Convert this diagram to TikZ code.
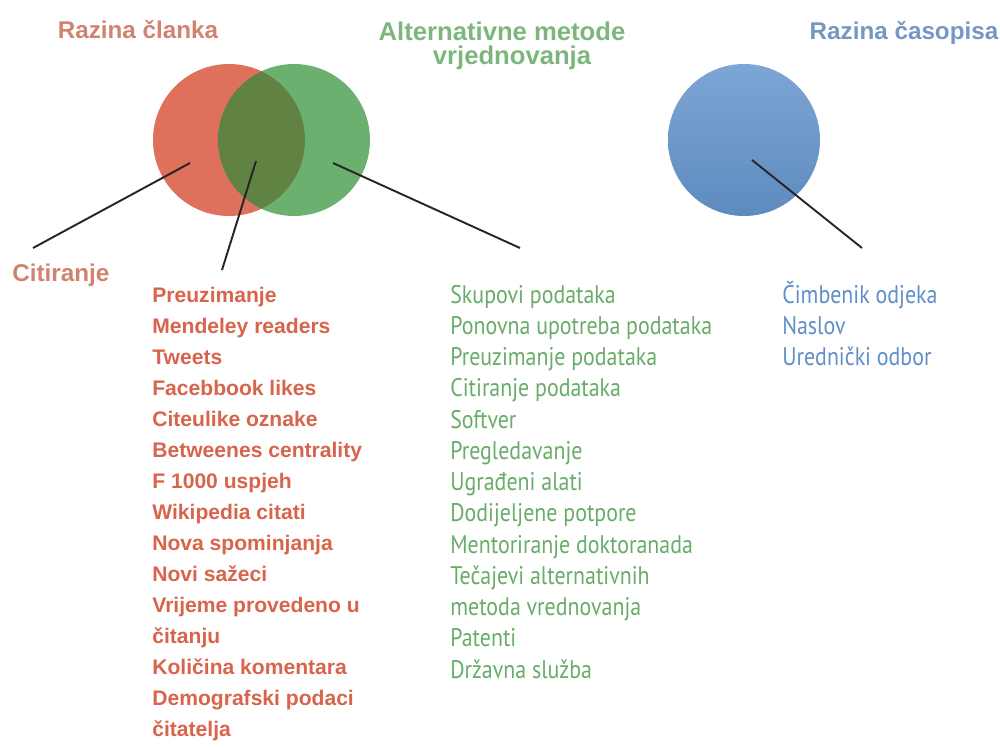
\documentclass[tikz,border=0pt]{standalone}
\usepackage{fontspec}
\setmainfont{PT Sans}[FakeStretch=0.86]
\newfontfamily\arialsans{Liberation Sans}
\definecolor{clred}{RGB}{222,112,92}
\definecolor{clgreen}{RGB}{108,176,112}
\definecolor{cloverlap}{RGB}{96,130,66}
\definecolor{clblue}{RGB}{102,150,206}
\definecolor{txred}{RGB}{216,100,76}
\definecolor{ttred}{RGB}{208,132,112}
\definecolor{txgreen}{RGB}{104,172,104}
\definecolor{ttgreen}{RGB}{124,182,124}
\definecolor{txblue}{RGB}{96,142,200}
\definecolor{ttblue}{RGB}{118,150,196}

\begin{document}
\begin{tikzpicture}[x=0.02cm,y=-0.02cm]
    \tikzstyle{every node}+=[inner sep=0pt]
    \tikzstyle{title}=[font=\arialsans\bfseries\fontsize{13.8}{17}\selectfont, anchor=base]
    \tikzstyle{item}=[font=\fontsize{14.5}{18}\selectfont, anchor=base west]
    \tikzstyle{boxitem}=[font=\arialsans\bfseries\fontsize{12}{15}\selectfont, anchor=base west]
    \tikzstyle{venn}=[circle, minimum size=152*0.02cm]
    \tikzstyle{leader}=[black!85, line width=1.1pt]
    \useasboundingbox (0,0) rectangle (1000,747);
    % circles
    \node [venn, fill=clred] (clanak) at (229,140) {};
    \node [venn, fill=clgreen] (alt) at (294,140) {};
    \begin{scope}
        \clip (229,140) circle (76);
        \fill [cloverlap] (294,140) circle (76);
    \end{scope}
    \node [venn, top color=clblue!85!white, bottom color=clblue!92!black] (casopis) at (744,140) {};
    % titles
    \node [title, text=ttred] (t1) at (138,38) {Razina članka};
    \node [title, text=ttgreen, font=\arialsans\bfseries\fontsize{14.6}{17}\selectfont] (t2) at (502,40) {Alternativne metode};
    \node [title, text=ttgreen, font=\arialsans\bfseries\fontsize{14.6}{17}\selectfont] (t2b) at (512,64) {vrjednovanja};
    \node [title, text=ttblue] (t3) at (904,39) {Razina časopisa};
    % lists
    \node [title, anchor=base west, text=ttred] (cit) at (12,281) {Citiranje};
    \foreach \t [count=\i] in {Preuzimanje, Mendeley readers, Tweets, Facebbook likes,
        Citeulike oznake, Betweenes centrality, F 1000 uspjeh, Wikipedia citati,
        Nova spominjanja, Novi sažeci, Vrijeme provedeno u, čitanju,
        Količina komentara, Demografski podaci, čitatelja}
        \node [boxitem, text=txred] (r\i) at (152,302+31*\i-31) {\t};
    \foreach \t [count=\i] in {Skupovi podataka, Ponovna upotreba podataka,
        Preuzimanje podataka, Citiranje podataka, Softver, Pregledavanje,
        Ugrađeni alati, Dodijeljene potpore, Mentoriranje doktoranada,
        Tečajevi alternativnih, metoda vrednovanja, Patenti, Državna služba}
        \node [item, text=txgreen] (g\i) at (450,303+31.25*\i-31.25) {\t};
    \foreach \t [count=\i] in {Čimbenik odjeka, Naslov, Urednički odbor}
        \node [item, text=txblue] (b\i) at (782,303+31.25*\i-31.25) {\t};
    % leaders
    \coordinate (p1) at (190,163);
    \coordinate (e1) at (33,248);
    \coordinate (p2) at (256,161);
    \coordinate (e2) at (222,270);
    \coordinate (p3) at (333,163);
    \coordinate (e3) at (520,248);
    \coordinate (p4) at (752,160);
    \coordinate (e4) at (862,248);
    \draw [leader] (p1) -- (e1);
    \draw [leader] (p2) -- (e2);
    \draw [leader] (p3) -- (e3);
    \draw [leader] (p4) -- (e4);
\end{tikzpicture}
\end{document}
